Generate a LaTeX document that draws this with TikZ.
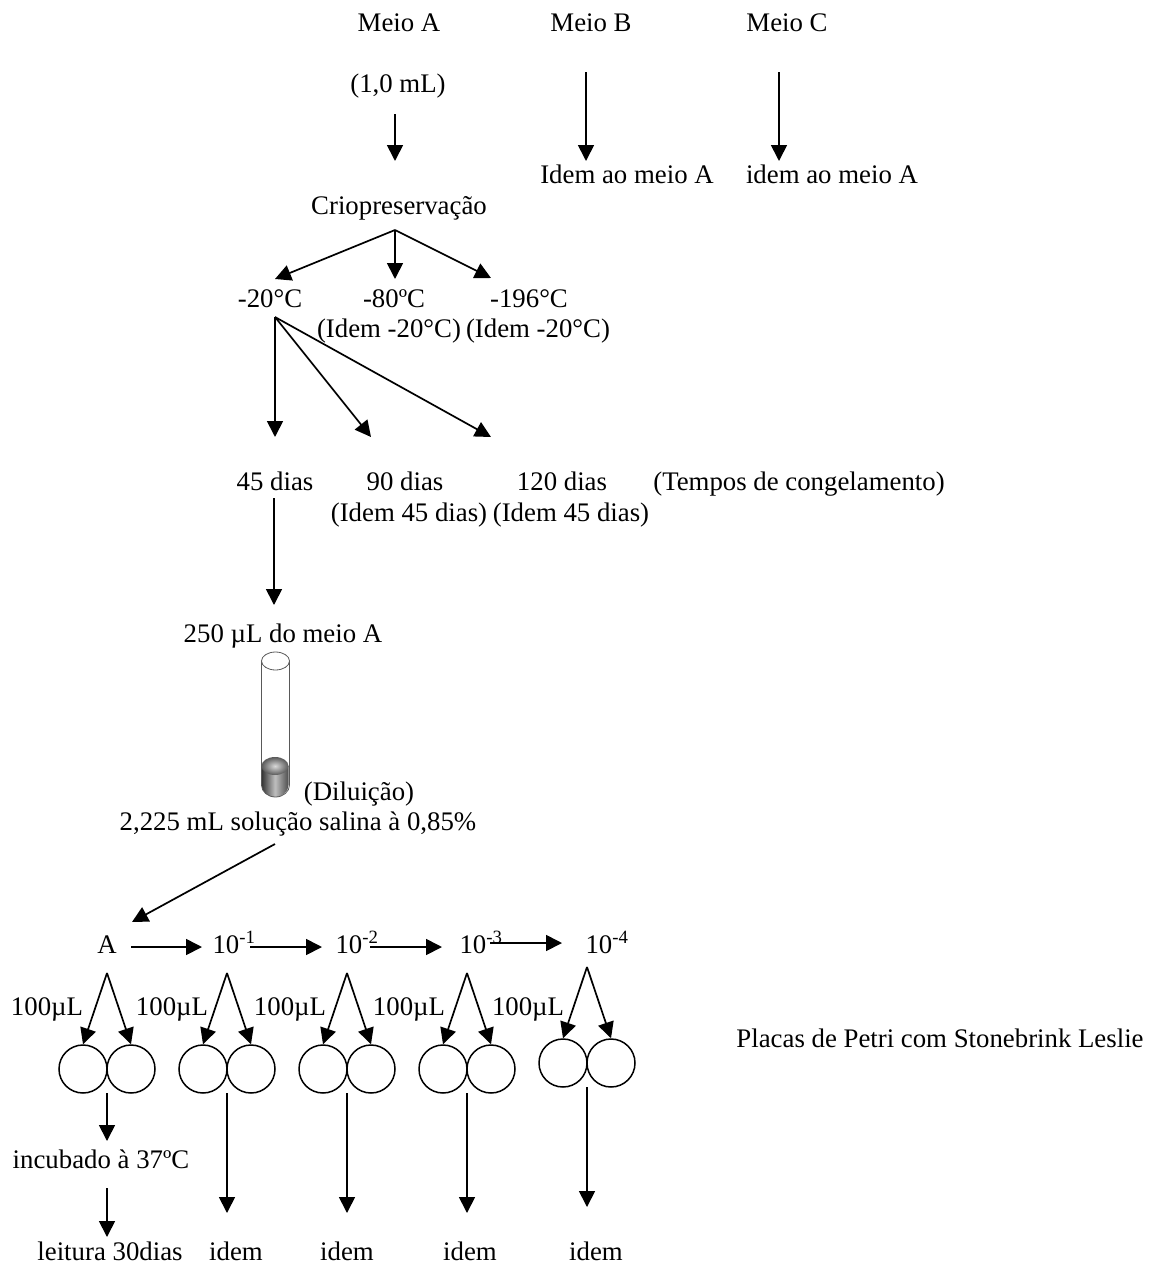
\documentclass[tikz,border=0pt]{standalone}
\usepackage{fontspec}
\setmainfont{Liberation Serif}
\usetikzlibrary{arrows.meta,calc}
\tikzset{
  x=1pt,y=-1pt,
  txt/.style={anchor=base,inner sep=0pt,font=\fontsize{26.8}{30}\selectfont},
  arr/.style={line width=1.7pt,-{Triangle[length=16pt,width=16pt]}},
  plate/.style={circle,draw,line width=1.5pt,minimum size=48pt,inner sep=0pt},
  tube/.style={line width=0.8pt,draw=black!65},
}
\begin{document}
\begin{tikzpicture}
\useasboundingbox (0,0) rectangle (1151,1266);
% texts
\node[txt] (ma) at (399,31) {Meio A};
\node[txt] (mb) at (591,31) {Meio B};
\node[txt] (mc) at (787,31) {Meio C};
\node[txt] (vol) at (398,92) {(1,0 mL)};
\node[txt] (cri) at (399,214) {Criopreservação};
\node[txt] (ib) at (627,183) {Idem ao meio A};
\node[txt] (ic) at (832,183) {idem ao meio A};
\node[txt] (t20) at (270,307) {-20°C};
\node[txt] (t80) at (394,307) {-80ºC};
\node[txt] (t196) at (529,307) {-196°C};
\node[txt] (i80) at (389,337) {(Idem -20°C)};
\node[txt] (i196) at (538,337) {(Idem -20°C)};
\node[txt] (d45) at (275,490) {45 dias};
\node[txt] (d90) at (405,490) {90 dias};
\node[txt] (d120) at (562,490) {120 dias};
\node[txt] (tc) at (799,490) {(Tempos de congelamento)};
\node[txt] (i90) at (409,521) {(Idem 45 dias)};
\node[txt] (i120) at (571,521) {(Idem 45 dias)};
\node[txt] (v250) at (283,642) {250 µL do meio A};
\node[txt] (dil) at (359,800) {(Diluição)};
\node[txt] (sal) at (298,830) {2,225 mL solução salina à 0,85\%};
\node[txt] (a) at (107,953) {A};
\node[txt] (e1) at (234,953) {10\textsuperscript{-1}};
\node[txt] (e2) at (357,953) {10\textsuperscript{-2}};
\node[txt] (e3) at (481,953) {10\textsuperscript{-3}};
\node[txt] (e4) at (607,953) {10\textsuperscript{-4}};
\node[txt] (u1) at (47,1015) {100µL};
\node[txt] (u2) at (172,1015) {100µL};
\node[txt] (u3) at (290,1015) {100µL};
\node[txt] (u4) at (409,1015) {100µL};
\node[txt] (u5) at (528,1015) {100µL};
\node[txt] (pl) at (940,1047) {Placas de Petri com Stonebrink Leslie};
\node[txt] (inc) at (101,1168) {incubado à 37ºC};
\node[txt] (lei) at (110,1260) {leitura 30dias};
\node[txt] (id2) at (236,1260) {idem};
\node[txt] (id3) at (347,1260) {idem};
\node[txt] (id4) at (470,1260) {idem};
\node[txt] (id5) at (596,1260) {idem};
% plates
\foreach \n/\cx/\cy in {1/83/1069,2/131/1069,3/203/1069,4/251/1069,5/323/1069,6/371/1069,7/443/1069,8/491/1069,9/563/1063,10/611/1063}
  \node[plate] (p\n) at (\cx,\cy) {};
% junction coordinates
\coordinate (jc) at (395,230);
\coordinate (j20) at (275,317);
\foreach \n/\cx/\cy in {1/107/973,2/227/973,3/347/973,4/467/973,5/587/967}
  \coordinate (f\n) at (\cx,\cy);
% top arrows
\draw[arr] ([shift={(-3,22)}]vol.base) -- ([shift={(-4,-53)}]cri.base);
\draw[arr] ([shift={(-5,41)}]mb.base) -- ([shift={(-41,-22)}]ib.base);
\draw[arr] ([shift={(-8,41)}]mc.base) -- ([shift={(-53,-22)}]ic.base);
\draw[arr] (jc) -- ([shift={(1,-28)}]t80.base);
\draw[arr] (jc) -- ([shift={(5,-28)}]t20.base);
\draw[arr] (jc) -- ([shift={(-38,-29)}]t196.base);
\draw[arr] (j20) -- ([shift={(0,-53)}]d45.base);
\draw[arr] (j20) -- ([shift={(-34,-53)}]d90.base);
\draw[arr] (j20) -- ([shift={(-71,-53)}]d120.base);
\draw[arr] ([shift={(-1,8)}]d45.base) -- ([shift={(-9,-37)}]v250.base);
\draw[arr] ([shift={(-23,14)}]sal.base) -- ([shift={(25,-31)}]a.base);
% dilution arrows
\draw[arr] ([shift={(24,-6)}]a.base) -- ([shift={(-32,-6)}]e1.base);
\draw[arr] ([shift={(16,-6)}]e1.base) -- ([shift={(-35,-6)}]e2.base);
\draw[arr] ([shift={(13,-6)}]e2.base) -- ([shift={(-39,-6)}]e3.base);
\draw[arr] ([shift={(9,-10)}]e3.base) -- ([shift={(-45,-10)}]e4.base);
% fans
\draw[arr] (f1) -- (p1.north);
\draw[arr] (f1) -- (p2.north);
\draw[arr] (f2) -- (p3.north);
\draw[arr] (f2) -- (p4.north);
\draw[arr] (f3) -- (p5.north);
\draw[arr] (f3) -- (p6.north);
\draw[arr] (f4) -- (p7.north);
\draw[arr] (f4) -- (p8.north);
\draw[arr] (f5) -- (p9.north);
\draw[arr] (f5) -- (p10.north);
% verticals
\draw[arr] ([shift={(24,24)}]p1.center) -- ([shift={(6,-27)}]inc.base);
\draw[arr] ([shift={(6,20)}]inc.base) -- ([shift={(-3,-23)}]lei.base);
\draw[arr] ([shift={(-9,-167)}]id2.base) -- ([shift={(-9,-47)}]id2.base);
\draw[arr] ([shift={(0,-167)}]id3.base) -- ([shift={(0,-47)}]id3.base);
\draw[arr] ([shift={(-3,-167)}]id4.base) -- ([shift={(-3,-47)}]id4.base);
\draw[arr] ([shift={(-9,-173)}]id5.base) -- ([shift={(-9,-53)}]id5.base);
% test tube
\shade[left color=black!80,right color=black!70,middle color=black!25] (261.5,766) -- (261.5,785) arc[start angle=180,end angle=0,x radius=13.5,y radius=12] -- (288.5,766) -- cycle;
\shade[inner color=black!15,outer color=black!65] (275,766) ellipse[x radius=13.5,y radius=9];
\draw[tube] (261.5,661) -- (261.5,785) arc[start angle=180,end angle=0,x radius=14,y radius=12] -- (289.5,661);
\draw[tube,fill=white] (275.5,661) ellipse[x radius=14,y radius=9];
\end{tikzpicture}
\end{document}
